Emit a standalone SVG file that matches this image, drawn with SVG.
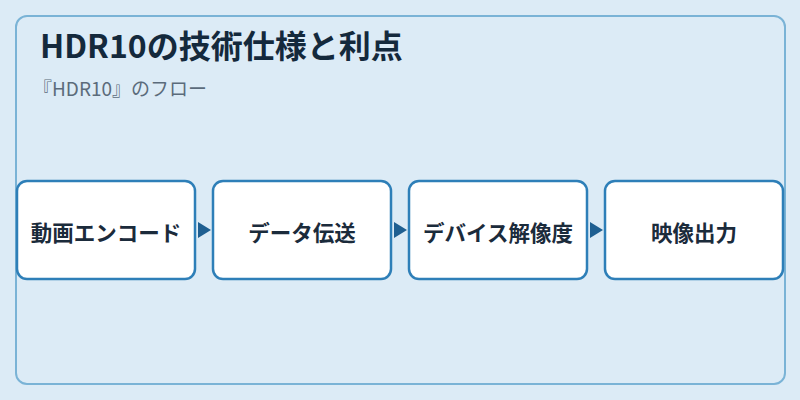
<svg xmlns="http://www.w3.org/2000/svg" width="800" height="400" viewBox="0 0 800 400">
<defs>
<style>
.panel{fill:#dcebf6;stroke:#7ab3d6;stroke-width:2}
.node rect{fill:#ffffff;stroke:#2e7fb8;stroke-width:2.5}
.node text{font-family:"Noto Sans CJK JP","Noto Sans",sans-serif;font-size:21.5px;font-weight:bold;fill:#1b2b3b;text-anchor:middle;dominant-baseline:central}
.title{font-family:"Noto Sans CJK JP","Noto Sans",sans-serif;font-size:32px;font-weight:bold;fill:#14293c}
.sub{font-family:"Noto Sans CJK JP","Noto Sans",sans-serif;font-size:19px;fill:#5b6b7b}
.arrow{fill:#1f5f91}
</style>
</defs>
<rect width="800" height="400" fill="#dcebf6"/>
<rect class="panel" x="16" y="16" width="769" height="368" rx="11"/>
<text class="title" x="40" y="58">HDR10の技術仕様と利点</text>
<text class="sub" x="33" y="96">『HDR10』のフロー</text>
<g id="connectors">
<polygon class="arrow" points="198,222 211,230 198,238"/>
<polygon class="arrow" points="394,222 407,230 394,238"/>
<polygon class="arrow" points="590,222 603,230 590,238"/>
</g>
<g id="n1" class="node"><rect x="17" y="181" width="178" height="98" rx="10"/><text x="106" y="231">動画エンコード</text></g>
<g id="n2" class="node"><rect x="213" y="181" width="178" height="98" rx="10"/><text x="302" y="231">データ伝送</text></g>
<g id="n3" class="node"><rect x="409" y="181" width="178" height="98" rx="10"/><text x="498" y="231">デバイス解像度</text></g>
<g id="n4" class="node"><rect x="605" y="181" width="178" height="98" rx="10"/><text x="694" y="231">映像出力</text></g>
</svg>
